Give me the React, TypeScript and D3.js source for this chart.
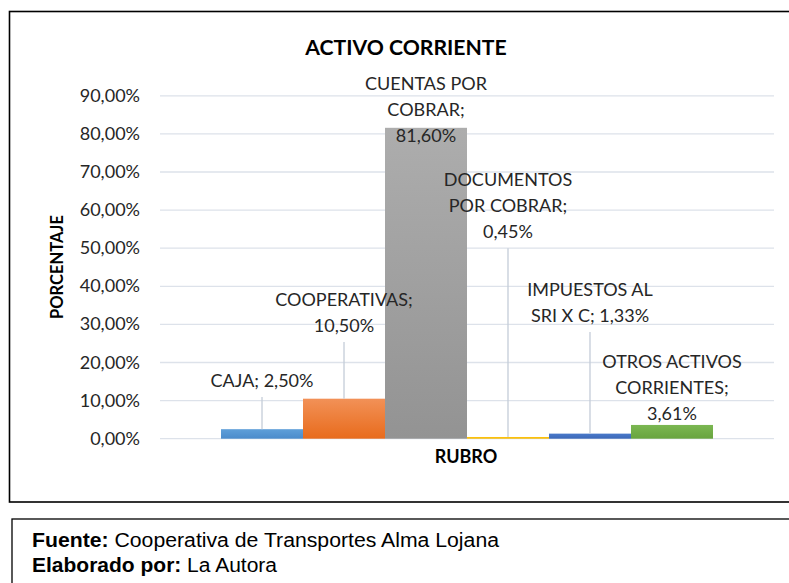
import React from "react";
import * as d3 from "d3";

const categories = [
  "CAJA",
  "COOPERATIVAS",
  "CUENTAS POR COBRAR",
  "DOCUMENTOS POR COBRAR",
  "IMPUESTOS AL SRI X C",
  "OTROS ACTIVOS CORRIENTES",
];
const values = [2.5, 10.5, 81.6, 0.45, 1.33, 3.61];
const labelLines = [
  ["CAJA; 2,50%"],
  ["COOPERATIVAS;", "10,50%"],
  ["CUENTAS POR", "COBRAR;", "81,60%"],
  ["DOCUMENTOS", "POR COBRAR;", "0,45%"],
  ["IMPUESTOS AL", "SRI X C; 1,33%"],
  ["OTROS ACTIVOS", "CORRIENTES;", "3,61%"],
];
const yTicks = [0, 10, 20, 30, 40, 50, 60, 70, 80, 90];
const groupName = "RUBRO";
const chartTitle = "ACTIVO CORRIENTE";
const yTitle = "PORCENTAJE";

// layout: label last-line baseline in data units (manual Excel placement)
const labelAnchor = [13.6, 28.0, 77.9, 52.6, 30.6, 4.9];
const gradients = [
  ["#5f9fd9", "#4b8bcb"],
  ["#f29157", "#e86b1c"],
  ["#adadad", "#939393"],
  ["#ffc50f", "#f5b800"],
  ["#4a79c9", "#3c68b8"],
  ["#7bb752", "#68a43e"],
];

const fmt = (v: number) => v.toFixed(2).replace(".", ",") + "%";

export default function App() {
  const W = 789;
  const H = 583;
  const y = d3.scaleLinear().domain([0, 90]).range([438.7, 95.8]);
  const x0 = d3.scaleBand().domain([groupName]).range([160, 774]).paddingInner(0).paddingOuter(0.124);
  const x1 = d3.scaleBand().domain(categories).range([0, x0.bandwidth()]).padding(0);
  const gx = x0(groupName) as number;
  const font = "Lato, 'Open Sans', sans-serif";
  const footFont = "'Liberation Sans', Arial, sans-serif";
  const lh = 26;

  return (
    <svg
      width={W}
      height={H}
      style={{ position: "absolute", left: 0, top: 0, background: "#fff" }}
      fontFamily={font}
    >
      <defs>
        {gradients.map((g, i) => (
          <linearGradient key={i} id={`g${i}`} x1="0" y1="0" x2="0" y2="1">
            <stop offset="0%" stopColor={g[0]} />
            <stop offset="100%" stopColor={g[1]} />
          </linearGradient>
        ))}
      </defs>
      <rect x={0} y={0} width={W} height={H} fill="#fff" />
      {/* outer chart border */}
      <rect x={9.5} y={11.5} width={W + 20} height={490.5} fill="none" stroke="#000" strokeWidth={1.6} />
      {/* title */}
      <text x={406} y={55} textAnchor="middle" fontWeight="bold" fontSize={21.2} fill="#000">
        {chartTitle}
      </text>
      {/* gridlines */}
      {yTicks.map((t) => (
        <line key={t} x1={160} x2={774} y1={y(t)} y2={y(t)} stroke="#dde2ea" strokeWidth={1.3} />
      ))}
      {/* tick labels */}
      {yTicks.map((t) => (
        <text key={t} x={140} y={y(t) + 6} textAnchor="end" fontSize={18} fill="#262626">
          {fmt(t)}
        </text>
      ))}
      {/* y title */}
      <text
        transform={`translate(63,267) rotate(-90)`}
        textAnchor="middle"
        fontWeight="bold"
        fontSize={16.5}
        fill="#000"
      >
        {yTitle}
      </text>
      {/* bars */}
      {categories.map((c, i) => {
        const bx = gx + (x1(c) as number);
        const bw = x1.bandwidth();
        return (
          <rect key={c} x={bx} y={y(values[i])} width={bw} height={y(0) - y(values[i])} fill={`url(#g${i})`} />
        );
      })}
      {/* leader lines */}
      {categories.map((c, i) => {
        const cx = gx + (x1(c) as number) + x1.bandwidth() / 2;
        const top = y(labelAnchor[i]) + 10;
        const bar = y(values[i]);
        if (bar - top < 15) return null;
        return <line key={c} x1={cx} x2={cx} y1={top} y2={bar} stroke="#c4ccd8" strokeWidth={1.3} />;
      })}
      {/* labels */}
      {categories.map((c, i) => {
        const cx = gx + (x1(c) as number) + x1.bandwidth() / 2;
        const lines = labelLines[i];
        const base = y(labelAnchor[i]);
        return (
          <text key={c} textAnchor="middle" fontSize={18} fill="#262626">
            {lines.map((l, j) => (
              <tspan key={j} x={cx} y={base - (lines.length - 1 - j) * lh}>
                {l}
              </tspan>
            ))}
          </text>
        );
      })}
      {/* x group label */}
      <text x={466} y={463} textAnchor="middle" fontWeight="bold" fontSize={18} fill="#000">
        {groupName}
      </text>
      {/* source box */}
      <rect x={12} y={519} width={W + 20} height={H} fill="none" stroke="#000" strokeWidth={1.3} />
      <text x={32} y={547} fontSize={19.5} fontFamily={footFont} fill="#000" textLength={467} lengthAdjust="spacingAndGlyphs">
        <tspan fontWeight="bold">Fuente:</tspan> Cooperativa de Transportes Alma Lojana
      </text>
      <text x={32} y={572} fontSize={19.5} fontFamily={footFont} fill="#000" textLength={245} lengthAdjust="spacingAndGlyphs">
        <tspan fontWeight="bold">Elaborado por:</tspan> La Autora
      </text>
    </svg>
  );
}
